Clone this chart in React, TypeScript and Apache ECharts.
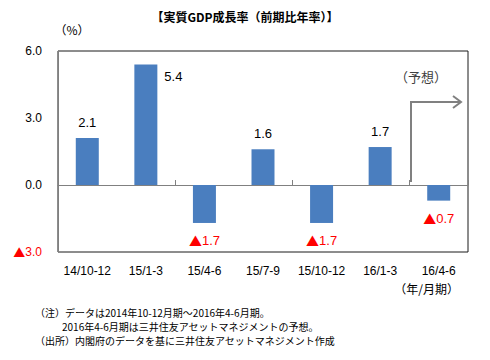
import React, { useEffect, useRef } from "react";
import * as echarts from "echarts";

const categories = ["14/10-12", "15/1-3", "15/4-6", "15/7-9", "15/10-12", "16/1-3", "16/4-6"];
const gdpValues = [2.1, 5.4, -1.7, 1.6, -1.7, 1.7, -0.7];
const yMin = -3;
const yMax = 6;
const yInterval = 3;

const titleText = "【実質GDP成長率（前期比年率）】";
const unitText = "（%）";
const forecastText = "（予想）";
const xUnitText = "（年/月期）";
const noteLines = [
  "（注）データは2014年10-12月期～2016年4-6月期。",
  "2016年4-6月期は三井住友アセットマネジメントの予想。",
  "（出所）内閣府のデータを基に三井住友アセットマネジメント作成",
];

const FONT = "'Liberation Sans', 'Noto Sans CJK JP', sans-serif";
const JFONT = "'Noto Sans CJK JP', sans-serif";

function richFmt(v: number): string {
  return v < 0 ? "{tri|▲}{neg|" + Math.abs(v).toFixed(1) + "}" : v.toFixed(1);
}

export default function App() {
  const ref = useRef<HTMLDivElement>(null);
  useEffect(() => {
    if (!ref.current) return;
    const chart = echarts.init(ref.current, undefined, { renderer: "svg" });
    const barData = gdpValues.map((v) => {
      if (v < 0) {
        return {
          value: v,
          label: { position: "bottom", distance: 11 },
        };
      }
      if (v > 5) {
        return { value: v, label: { position: [30, 6] } };
      }
      return { value: v, label: { position: "top", distance: 9 } };
    });
    chart.setOption({
      animation: false,
      backgroundColor: "#ffffff",
      grid: {
        left: 58,
        right: 22,
        top: 51,
        bottom: 108,
        show: true,
        borderColor: "#1a1a1a",
        borderWidth: 1,
      },
      xAxis: [
        {
          type: "category",
          data: categories,
          position: "bottom",
          axisLine: { onZero: true, lineStyle: { color: "#808080", width: 1 } },
          axisTick: { show: true, inside: true, length: 5, lineStyle: { color: "#808080" } },
          axisLabel: { show: false },
          splitLine: { show: false },
        },
        {
          type: "category",
          data: categories,
          position: "bottom",
          axisLine: { show: false, onZero: false },
          axisTick: { show: false },
          axisLabel: { interval: 0, margin: 13, fontSize: 12, color: "#000", fontFamily: FONT },
          splitLine: { show: false },
        },
      ],
      yAxis: {
        type: "value",
        min: yMin,
        max: yMax,
        interval: yInterval,
        axisLine: { show: true, lineStyle: { color: "#808080" } },
        axisTick: { show: false },
        splitLine: { show: false },
        axisLabel: {
          margin: 16,
          fontSize: 12,
          fontFamily: FONT,
          color: "#000",
          formatter: (v: number) => richFmt(v),
          rich: {
            tri: { color: "#ff0000", fontSize: 12, fontFamily: JFONT },
            neg: { color: "#ff0000", fontSize: 12, fontFamily: FONT },
          },
        },
      },
      series: [
        {
          type: "bar",
          xAxisIndex: 0,
          data: barData,
          barWidth: 23,
          itemStyle: { color: "#4a7ebf" },
          label: {
            show: true,
            fontSize: 13,
            fontFamily: FONT,
            color: "#000",
            formatter: (p: any) => richFmt(p.value),
            rich: {
              tri: { color: "#ff0000", fontSize: 13, fontFamily: JFONT },
              neg: { color: "#ff0000", fontSize: 13, fontFamily: FONT },
            },
          },
        },
      ],
      graphic: [
        {
          type: "text",
          left: "center",
          top: 10,
          style: { text: titleText, font: "bold 12px " + JFONT, fill: "#000" },
        },
        {
          type: "text",
          x: 72,
          y: 29,
          style: { text: unitText, font: "12px " + JFONT, fill: "#000", align: "center", verticalAlign: "middle" },
        },
        {
          type: "text",
          x: 421,
          y: 76,
          style: { text: forecastText, font: "13px " + JFONT, fill: "#404040", align: "center", verticalAlign: "middle" },
        },
        {
          type: "polyline",
          shape: { points: [[411, 182], [411, 102], [461, 102]] },
          style: { stroke: "#808080", lineWidth: 2, fill: "none" },
        },
        {
          type: "polyline",
          shape: { points: [[453, 96], [461, 102], [453, 108]] },
          style: { stroke: "#808080", lineWidth: 2, fill: "none" },
        },
        {
          type: "text",
          x: 459,
          y: 288,
          style: { text: xUnitText, font: "12px " + JFONT, fill: "#000", align: "right", verticalAlign: "middle" },
        },
        {
          type: "text",
          x: 35,
          y: 312,
          style: { text: noteLines[0], font: "10px " + JFONT, fill: "#000", verticalAlign: "middle" },
        },
        {
          type: "text",
          x: 62,
          y: 326,
          style: { text: noteLines[1], font: "10px " + JFONT, fill: "#000", verticalAlign: "middle" },
        },
        {
          type: "text",
          x: 35,
          y: 340,
          style: { text: noteLines[2], font: "10px " + JFONT, fill: "#000", verticalAlign: "middle" },
        },
      ],
    });
    return () => chart.dispose();
  }, []);
  return <div ref={ref} style={{ width: 490, height: 360, position: "absolute", left: 0, top: 0 }} />;
}
